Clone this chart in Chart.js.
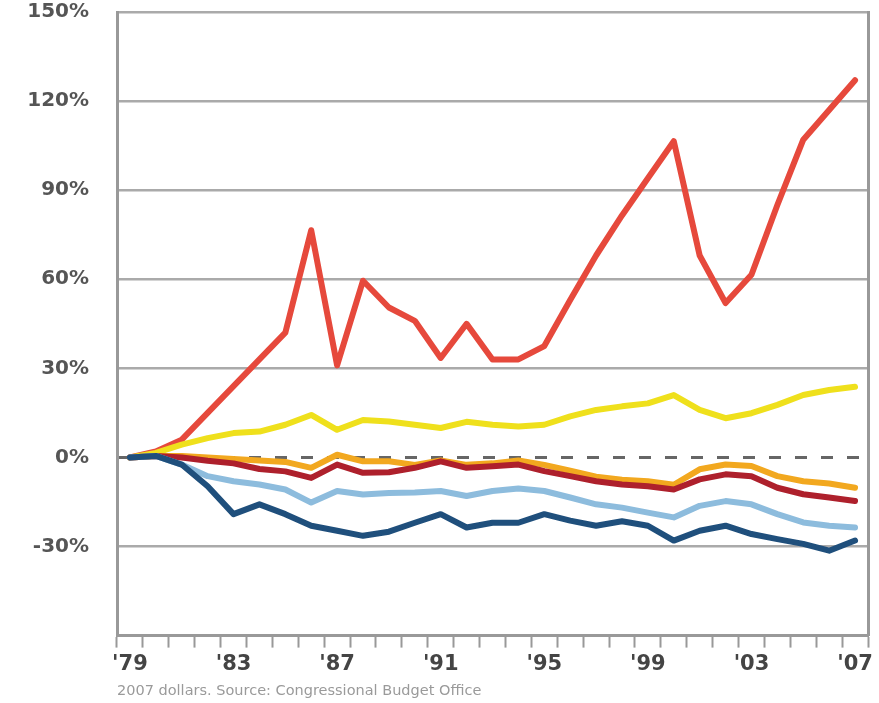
<!DOCTYPE html>
<html>
<head>
<meta charset="utf-8">
<script src="https://cdn.jsdelivr.net/npm/chart.js@4.4.0/dist/chart.umd.min.js"></script>
<style>
  html, body { margin: 0; padding: 0; background: #fff; }
  #wrap { width: 879px; height: 703px; }
</style>
</head>
<body>
<div id="wrap"><canvas id="chart" width="879" height="703"></canvas></div>
<script>
// Cumulative change in after-tax income since 1979 (%)
const years = [1979, 1980, 1981, 1982, 1983, 1984, 1985, 1986, 1987, 1988,
               1989, 1990, 1991, 1992, 1993, 1994, 1995, 1996, 1997, 1998,
               1999, 2000, 2001, 2002, 2003, 2004, 2005, 2006, 2007];

const topOnePct = [0, 2, 6, 15, 24, 33, 42, 76.5, 31, 59.5,
                   50.5, 46, 33.5, 45, 33, 33, 37.5, 53, 68, 81.5,
                   94, 106.5, 68, 52, 61.5, 85, 107, 117, 127];

const yellowLine = [0, 1.5, 4.3, 6.5, 8.2, 8.7, 11, 14.3, 9.3, 12.6,
                    12.1, 11, 9.9, 12, 11, 10.4, 11, 13.8, 16, 17.2,
                    18.2, 21, 16, 13.2, 14.9, 17.7, 21, 22.7, 23.8];

const orangeLine = [0, 0.5, 0.5, 0, -0.5, -1, -1.5, -3.5, 0.9, -1.3,
                    -1.3, -2.5, -1, -2.5, -2, -1, -2.5, -4.5, -6.5, -7.5,
                    -8, -9.2, -4, -2.4, -2.9, -6.3, -8, -8.8, -10.2];

const darkRedLine = [0, 0.5, 0, -1.1, -2, -3.9, -4.7, -6.9, -2.4, -5.2,
                     -5, -3.5, -1.3, -3.5, -3, -2.4, -4.6, -6.3, -8, -9.1,
                     -9.7, -10.8, -7.4, -5.7, -6.3, -10.2, -12.4, -13.5, -14.7];

const lightBlueLine = [0, 0.5, -2.4, -6.3, -8, -9.1, -10.8, -15.2, -11.3, -12.5,
                       -12, -11.8, -11.3, -13, -11.3, -10.5, -11.3, -13.5, -15.8, -16.9,
                       -18.6, -20.2, -16.3, -14.7, -15.8, -19.1, -21.9, -23, -23.6];

const darkBlueLine = [0, 0.5, -2.4, -9.7, -19.1, -15.8, -19.1, -23, -24.7, -26.4,
                      -25, -22, -19.1, -23.6, -22, -22, -19.1, -21.3, -23, -21.5,
                      -23, -28, -24.7, -23, -25.8, -27.5, -29.1, -31.4, -28];

const caption = "2007 dollars. Source: Congressional Budget Office";

function makeLine(values, color) {
    return {
        data: values,
        borderColor: color,
        borderWidth: 6,
        pointRadius: 0,
        tension: 0,
        fill: false,
        borderJoinStyle: 'round',
        borderCapStyle: 'round'
    };
}

const labelFont = { family: "DejaVu Sans", weight: "bold", size: 20 };

new Chart(document.getElementById("chart").getContext("2d"), {
    type: "line",
    data: {
        labels: years,
        datasets: [
            makeLine(darkBlueLine, "#1f4f7c"),
            makeLine(lightBlueLine, "#8dbcdd"),
            makeLine(darkRedLine, "#ae202c"),
            makeLine(orangeLine, "#f2a81f"),
            makeLine(yellowLine, "#efe01c"),
            makeLine(topOnePct, "#e6493c")
        ]
    },
    options: {
        responsive: false,
        animation: false,
        layout: { padding: { top: 12, left: 0, right: 0, bottom: 0 } },
        plugins: {
            legend: { display: false },
            tooltip: { enabled: false },
            title: {
                display: true,
                position: "bottom",
                align: "start",
                fullSize: false,
                text: caption,
                color: "#9a9a9a",
                font: { family: "DejaVu Sans", size: 14.5, weight: "normal" },
                padding: { top: 6, bottom: 3 }
            }
        },
        scales: {
            x: {
                type: "category",
                offset: true,
                grid: {
                    offset: true,
                    drawOnChartArea: false,
                    tickLength: 12,
                    tickColor: "#999",
                    tickWidth: 2
                },
                border: { color: "#999", width: 3 },
                ticks: {
                    autoSkip: false,
                    maxRotation: 0,
                    padding: 4,
                    color: "#444",
                    font: { family: "DejaVu Sans", weight: "bold", size: 21 },
                    callback: (v, i) => i % 4 === 0 ? "'" + String(years[i]).slice(2) : ""
                },
                afterFit: s => { s.height = 41; }
            },
            y: {
                min: -60,
                max: 150,
                ticks: {
                    stepSize: 30,
                    padding: 28,
                    color: "#555",
                    font: labelFont,
                    callback: v => v === -60 ? "" : v + "%"
                },
                grid: {
                    drawTicks: false,
                    color: ctx => ctx.tick && ctx.tick.value === 0 ? "#666" : "#aaa",
                    lineWidth: ctx => ctx.tick && ctx.tick.value === 0 ? 3 : 2.5
                },
                border: {
                    color: "#999",
                    width: 3,
                    dash: ctx => ctx.tick && ctx.tick.value === 0 ? [12, 14] : []
                },
                afterFit: s => {
                    s.width = 117;
                    s.paddingTop = 12;
                    s.paddingBottom = 0;
                }
            },
            yRight: {
                position: "right",
                min: -60,
                max: 150,
                ticks: { display: false },
                grid: { display: false },
                border: { color: "#999", width: 3 },
                afterFit: s => {
                    s.width = 11;
                    s.paddingTop = 0;
                    s.paddingBottom = 0;
                }
            }
        }
    }
});
</script>
</body>
</html>
